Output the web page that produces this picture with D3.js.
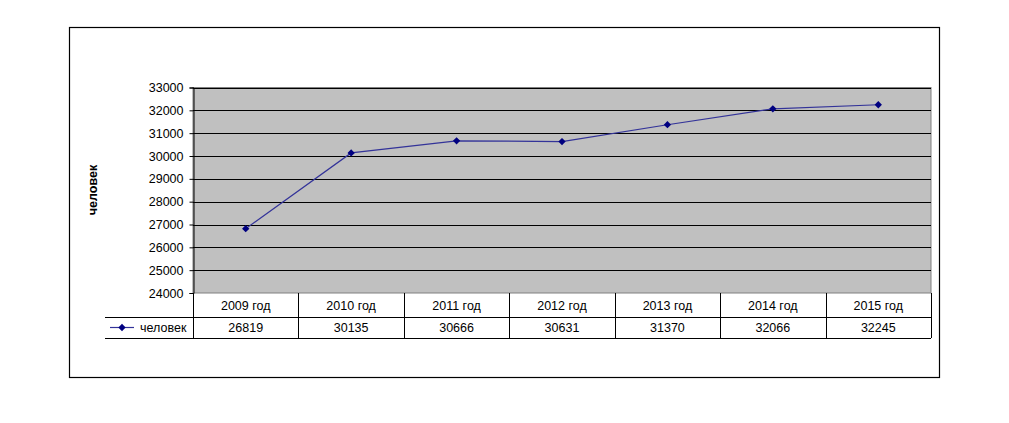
<!DOCTYPE html>
<html>
<head>
<meta charset="utf-8">
<script src="https://cdn.jsdelivr.net/npm/d3@7"></script>
<style>
  body { margin: 0; background: #fff; }
  text { font-family: "Liberation Sans", Arial, sans-serif; }
</style>
</head>
<body>
<div id="chart"></div>
<script>
const years = ["2009 год", "2010 год", "2011 год", "2012 год", "2013 год", "2014 год", "2015 год"]
const people = [26819, 30135, 30666, 30631, 31370, 32066, 32245]
const yTicks = [24000, 25000, 26000, 27000, 28000, 29000, 30000, 31000, 32000, 33000]
const seriesName = "человек"
const yTitle = "человек"

const width = 1009
const height = 423
const plot = { left: 193, right: 931, top: 87.5, bottom: 293 }
const row1 = 317, row2 = 338, legendLeft = 105

const svg = d3.select("#chart").append("svg")
    .attr("width", width)
    .attr("height", height)

// outer frame
svg.append("rect")
    .attr("x", 69.5).attr("y", 27.5)
    .attr("width", 870).attr("height", 350)
    .attr("fill", "none").attr("stroke", "#000").attr("stroke-width", 1.2)

const x = d3.scaleBand()
    .domain(years)
    .range([plot.left, plot.right])

const y = d3.scaleLinear()
    .domain([24000, 33000])
    .range([plot.bottom, plot.top])

// plot background
svg.append("rect")
    .attr("x", plot.left).attr("y", plot.top)
    .attr("width", plot.right - plot.left).attr("height", plot.bottom - plot.top)
    .attr("fill", "#c0c0c0")
    .attr("stroke", "#808080").attr("stroke-width", 1)

// grid
svg.append("g")
    .selectAll("line")
    .data(yTicks.slice(1))
    .join("line")
    .attr("x1", plot.left).attr("x2", plot.right)
    .attr("y1", d => Math.round(y(d)) + 0.5).attr("y2", d => Math.round(y(d)) + 0.5)
    .attr("stroke", "#000").attr("stroke-width", 1)

// y axis
svg.append("g")
    .attr("transform", `translate(${plot.left + 0.5},0)`)
    .call(d3.axisLeft(y).tickValues(yTicks).tickSize(4).tickPadding(6).tickFormat(d3.format("d")))
    .call(g => g.select(".domain").attr("stroke", "#000"))
    .call(g => g.selectAll("text")
        .attr("font-size", 12.5)
        .attr("fill", "#000")
        .style("font-family", "'Liberation Sans', Arial, sans-serif"))

svg.append("text")
    .attr("transform", `translate(97,190) rotate(-90)`)
    .attr("text-anchor", "middle")
    .attr("font-size", 12.5)
    .attr("font-weight", "bold")
    .text(yTitle)

// line + markers
const line = d3.line()
    .x((d, i) => x(years[i]) + x.bandwidth() / 2)
    .y(d => y(d))

svg.append("path")
    .datum(people)
    .attr("d", line)
    .attr("fill", "none")
    .attr("stroke", "#333399")
    .attr("stroke-width", 1.2)

const diamond = d3.symbol().type(d3.symbolDiamond2).size(34)

svg.append("g")
    .selectAll("path")
    .data(people)
    .join("path")
    .attr("d", diamond)
    .attr("transform", (d, i) => `translate(${x(years[i]) + x.bandwidth() / 2},${y(d)})`)
    .attr("fill", "#000080")

// data table
const table = svg.append("g").attr("stroke", "#000").attr("stroke-width", 1)

table.append("line")
    .attr("x1", legendLeft).attr("x2", plot.right)
    .attr("y1", row1 + 0.5).attr("y2", row1 + 0.5)
table.append("line")
    .attr("x1", legendLeft).attr("x2", plot.right)
    .attr("y1", row2 + 0.5).attr("y2", row2 + 0.5)

table.selectAll("line.v")
    .data(years.map(d => x(d)).concat([plot.right]))
    .join("line")
    .attr("class", "v")
    .attr("x1", d => Math.round(d) + 0.5).attr("x2", d => Math.round(d) + 0.5)
    .attr("y1", plot.bottom).attr("y2", row2)

svg.append("g")
    .selectAll("text")
    .data(years)
    .join("text")
    .attr("x", d => x(d) + x.bandwidth() / 2)
    .attr("y", 310)
    .attr("text-anchor", "middle")
    .attr("font-size", 12.5)
    .text(d => d)

svg.append("g")
    .selectAll("text")
    .data(people)
    .join("text")
    .attr("x", (d, i) => x(years[i]) + x.bandwidth() / 2)
    .attr("y", 332)
    .attr("text-anchor", "middle")
    .attr("font-size", 12.5)
    .text(d => d)

// legend key
const legend = svg.append("g")
legend.append("line")
    .attr("x1", 110).attr("x2", 134)
    .attr("y1", 327.5).attr("y2", 327.5)
    .attr("stroke", "#333399").attr("stroke-width", 1.2)
legend.append("path")
    .attr("d", diamond)
    .attr("transform", "translate(122,327.5)")
    .attr("fill", "#000080")
legend.append("text")
    .attr("x", 140).attr("y", 332)
    .attr("font-size", 12.5)
    .text(seriesName)
</script>
</body>
</html>
